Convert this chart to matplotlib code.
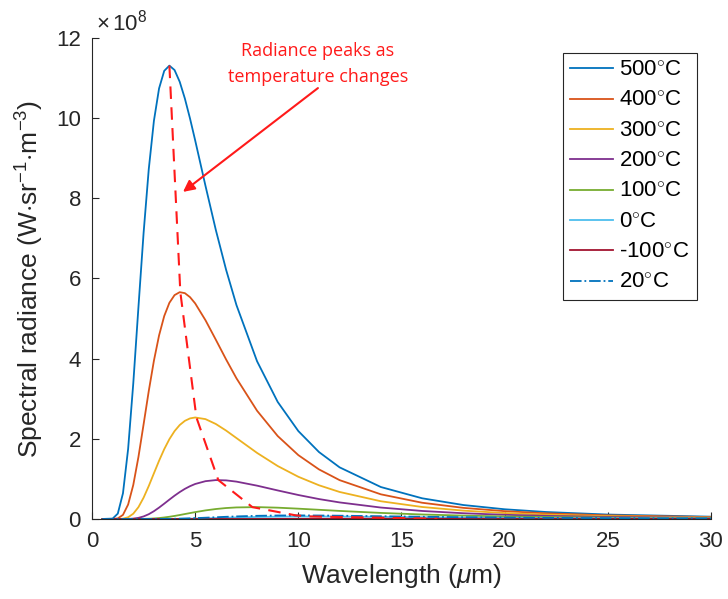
import matplotlib
matplotlib.use("Agg")
import matplotlib.pyplot as plt

# wavelength grid (um) and spectral radiance (x 1e8 W sr^-1 m^-3)
wavelength = [0.5, 1, 1.25, 1.5, 1.75, 2, 2.25, 2.5, 2.75, 3, 3.25, 3.5, 3.75, 4, 4.25,
              4.5, 4.75, 5, 5.5, 6, 6.5, 7, 8, 9, 10, 11, 12, 14, 16, 18, 20, 22, 25, 30]

rad_500 = [0, 0.0099, 0.134, 0.641, 1.748, 3.386, 5.285, 7.138, 8.725, 9.933, 10.742, 11.18,
           11.31, 11.20, 10.908, 10.49, 9.991, 9.445, 8.31, 7.212, 6.215, 5.337, 3.934, 2.920,
           2.193, 1.670, 1.288, 0.797, 0.516, 0.348, 0.242, 0.174, 0.110, 0.057]
rad_400 = [0, 0.0006, 0.0146, 0.102, 0.360, 0.850, 1.547, 2.362, 3.191, 3.949, 4.580, 5.063,
           5.393, 5.585, 5.658, 5.634, 5.534, 5.378, 4.958, 4.473, 3.979, 3.510, 2.700, 2.069,
           1.593, 1.237, 0.969, 0.615, 0.405, 0.277, 0.195, 0.141, 0.090, 0.047]
rad_300 = [0, 0, 0.0007, 0.0085, 0.0427, 0.132, 0.295, 0.532, 0.822, 1.139, 1.453, 1.742,
           1.991, 2.192, 2.344, 2.448, 2.509, 2.532, 2.491, 2.370, 2.205, 2.019, 1.648, 1.321,
           1.053, 0.841, 0.674, 0.442, 0.299, 0.208, 0.148, 0.109, 0.071, 0.037]
rad_200 = [0, 0, 0, 0.0003, 0.0021, 0.0093, 0.0279, 0.0636, 0.119, 0.194, 0.284, 0.382,
           0.483, 0.581, 0.671, 0.751, 0.818, 0.873, 0.943, 0.970, 0.963, 0.932, 0.831, 0.712,
           0.598, 0.497, 0.413, 0.285, 0.200, 0.143, 0.104, 0.078, 0.051, 0.028]
rad_100 = [0, 0, 0, 0, 0, 0.0002, 0.0008, 0.0024, 0.0062, 0.0128, 0.0231, 0.0373,
           0.055, 0.0757, 0.0986, 0.123, 0.147, 0.171, 0.214, 0.248, 0.273, 0.288, 0.296, 0.282,
           0.257, 0.229, 0.201, 0.151, 0.112, 0.084, 0.063, 0.049, 0.033, 0.019]
rad_0 = [0, 0, 0, 0, 0, 0, 0, 0, 0, 0, 0.0003, 0.0007,
         0.0012, 0.0022, 0.0036, 0.0053, 0.0075, 0.0101, 0.0164, 0.0236, 0.0311, 0.0383, 0.0503,
         0.0581, 0.0617, 0.0621, 0.0601, 0.0527, 0.0438, 0.0357, 0.0288, 0.0232, 0.0169, 0.0102]
rad_m100 = [0, 0, 0, 0, 0, 0, 0, 0, 0, 0, 0, 0,
            0, 0, 0, 0, 0, 0, 0.0001, 0.0001, 0.0003, 0.0005, 0.0011, 0.0020, 0.0029, 0.0039,
            0.0047, 0.0059, 0.0063, 0.0063, 0.0059, 0.0054, 0.0046, 0.0033]
rad_20 = [0, 0, 0, 0, 0, 0, 0, 0, 0.0001, 0.0004, 0.0009, 0.0018,
          0.0033, 0.0055, 0.0083, 0.0118, 0.0160, 0.0208, 0.0315, 0.0429, 0.0540, 0.0639, 0.0789,
          0.0867, 0.0886, 0.0863, 0.0815, 0.0685, 0.0554, 0.0441, 0.0350, 0.0278, 0.0199, 0.0119]

# peak of each curve (descending temperature)
peak_wl = [3.75, 4.28, 5.06, 6.12, 7.77, 9.89, 10.61, 16.74]
peak_val = [11.31, 5.66, 2.532, 0.971, 0.296, 0.0886, 0.0623, 0.0064]

labels = ['500$^{\\circ}$C', '400$^{\\circ}$C', '300$^{\\circ}$C', '200$^{\\circ}$C',
          '100$^{\\circ}$C', '0$^{\\circ}$C', '-100$^{\\circ}$C', '20$^{\\circ}$C']
series = [rad_500, rad_400, rad_300, rad_200, rad_100, rad_0, rad_m100, rad_20]
colors = ['#0072bd', '#d95319', '#edb120', '#7e2f8e', '#77ac30', '#4dbeee', '#a2142f', '#0072bd']
styles = ['-', '-', '-', '-', '-', '-', '-', '-.']

plt.rcParams['font.family'] = ['Liberation Sans', 'DejaVu Sans']
plt.rcParams['mathtext.fontset'] = 'custom'
plt.rcParams['mathtext.rm'] = 'Liberation Sans'
plt.rcParams['mathtext.it'] = 'Liberation Sans:italic'

fig = plt.figure(figsize=(7.28, 5.99), dpi=100)
ax = fig.add_axes([0.1264, 0.1336, 0.8502, 0.803])

for y, lab, c, ls in zip(series, labels, colors, styles):
    ax.plot(wavelength, y, color=c, linestyle=ls, lw=1.3, label=lab)

ax.plot(peak_wl, peak_val, color='#ff1a1a', linestyle=(0, (6, 4)), lw=1.5)

ax.set_xlim(0, 30)
ax.set_ylim(0, 12)
ax.set_xticks(range(0, 31, 5))
ax.set_yticks(range(0, 13, 2))
ax.tick_params(direction='in', length=5, labelsize=16, colors='#262626')
ax.tick_params(axis='x', pad=9)
ax.tick_params(axis='y', pad=8)
for s in ['top', 'right']:
    ax.spines[s].set_visible(False)
for s in ['left', 'bottom']:
    ax.spines[s].set_color('#262626')
    ax.spines[s].set_linewidth(0.8)

ax.set_xlabel('Wavelength ($\\mu$m)', fontsize=19, color='#262626', labelpad=7)
ax.set_ylabel('Spectral radiance (W$\\cdot$sr$^{-1}$$\\cdot$m$^{-3}$)', fontsize=19,
              color='#262626', labelpad=7)
ax.text(0.006, 1.006, '$\\times\\,10^{8}$', transform=ax.transAxes, fontsize=16,
        color='#262626', ha='left', va='bottom')

leg = ax.legend(loc='upper right', bbox_to_anchor=(0.977, 0.969), borderaxespad=0,
                fontsize=16, handlelength=1.9, labelspacing=0.42, fancybox=False,
                edgecolor='#262626', framealpha=1, borderpad=0.32, handletextpad=0.3)
leg.get_frame().set_linewidth(0.8)

ax.text(10.95, 11.35, 'Radiance peaks as\ntemperature changes', color='#ff1a1a',
        fontsize=13, family='Open Sans', ha='center', va='center', linespacing=1.6)
ax.annotate('', xy=(4.41, 8.16), xytext=(10.95, 10.75),
            arrowprops=dict(arrowstyle='-|>', color='#ff1a1a', lw=1.5, mutation_scale=17,
                            shrinkA=0, shrinkB=0))

fig.savefig('out.png', dpi=100)
